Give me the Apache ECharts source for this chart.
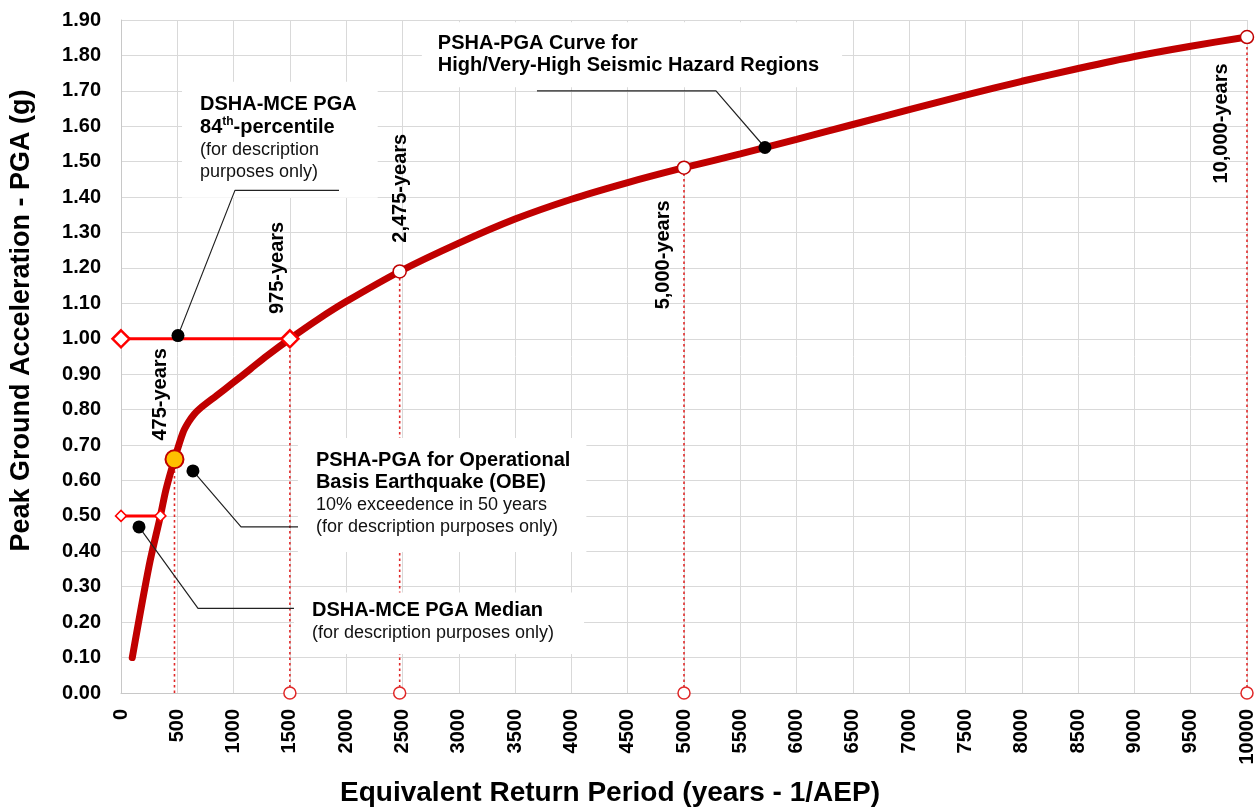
<!DOCTYPE html>
<html><head><meta charset="utf-8">
<script src="https://cdn.jsdelivr.net/npm/echarts@6/dist/echarts.min.js"></script>
<style>html,body{margin:0;padding:0;background:#fff}#c{width:1259px;height:812px}</style>
</head><body><div id="c"></div>
<script>
// PSHA-PGA hazard curve (return period in years, PGA in g)
const curveX = [100, 250, 350, 400, 475, 550, 600, 650, 700, 850, 1000, 1150, 1300, 1500, 1750, 2000, 2475, 3000, 3500, 4000, 4500, 5000, 5500, 6000, 6500, 7000, 7500, 8000, 8500, 9000, 9500, 10000];
const curveY = [0.10, 0.36, 0.50, 0.575, 0.66, 0.735, 0.765, 0.787, 0.803, 0.84, 0.877, 0.915, 0.953, 1.00, 1.055, 1.105, 1.19, 1.27, 1.338, 1.394, 1.441, 1.483, 1.522, 1.563, 1.605, 1.647, 1.688, 1.727, 1.763, 1.797, 1.826, 1.852];
// return-period markers
const rpX = [1500, 2475, 5000, 10000];
const rpY = [1.00, 1.19, 1.483, 1.852];
const obeX = [475];
const obeY = [0.66];
// rotated labels
const yearLabels = ['475-years', '975-years', '2,475-years', '5,000-years', '10,000-years'];
const yearLabelX = [355, 1394, 2486, 4821, 9775];
const yearLabelY = [0.843, 1.20, 1.425, 1.237, 1.608];
// DSHA horizontal lines
const hLine84X = [0, 1500];
const hLine84Y = 1.00;
const hLineMedX = [0, 350];
const hLineMedY = 0.50;
// callout dots and leader lines
const dotX = [506, 639, 160, 5719];
const dotY = [1.009, 0.627, 0.469, 1.54];
const leaderX = [[506, 1012, 1936], [639, 1066, 1572], [160, 684, 1536], [5719, 5284, 3694]];
const leaderY = [[1.009, 1.419, 1.419], [0.627, 0.469, 0.469], [0.469, 0.239, 0.239], [1.54, 1.70, 1.70]];
// callout notes (anchor = top-left of note box)
const noteX = [542, 1571, 1536, 2672];
const noteY = [1.726, 0.72, 0.284, 1.894];
const noteText = [
  '{b|DSHA-MCE PGA}\n{b|84}{sup|th}{b|-percentile}\n{n|(for description}\n{n|purposes only)}',
  '{b|PSHA-PGA for Operational}\n{b|Basis Earthquake (OBE)}\n{n|10% exceedence in 50 years}\n{n|(for description purposes only)}',
  '{b|DSHA-MCE PGA Median}\n{n|(for description purposes only)}',
  '{b|PSHA-PGA Curve for}\n{b|High/Very-High Seismic Hazard Regions}'
];
const notePadding = [[12, 21, 15, 18], [11, 16, 14, 18], [7, 30, 10, 18], [10, 23, 10, 16]];
// axis ticks
const xMin = 0, xMax = 10000, xStep = 500;
const yMin = 0, yMax = 1.9, yStep = 0.1;

const FONT = 'Liberation Sans, Arial, sans-serif';
const chart = echarts.init(document.getElementById('c'), null, {renderer: 'canvas'});

const series = [];
// dotted vertical drop lines
obeX.concat(rpX).forEach((x, i) => {
  const y = obeY.concat(rpY)[i];
  series.push({
    type: 'line', z: 1, silent: true, symbol: 'none', animation: false,
    data: [[x, 0], [x, y]],
    lineStyle: {color: '#e02828', width: 1.6, type: [2.5, 3]}
  });
});
// bottom open circles
series.push({
  type: 'scatter', z: 3, silent: true, animation: false, symbol: 'circle', symbolSize: 12,
  data: rpX.map(x => [x, 0]),
  itemStyle: {color: '#fff', borderColor: '#e02828', borderWidth: 1.5, opacity: 1}
});
// notes
series.push({
  type: 'scatter', z: 2, silent: true, animation: false, symbolSize: 0,
  itemStyle: {opacity: 1},
  data: noteX.map((x, i) => ({
    value: [x, noteY[i]],
    label: {padding: notePadding[i], formatter: noteText[i]}
  })),
  label: {
    show: true, position: [0, 0], align: 'left', verticalAlign: 'top', opacity: 1,
    backgroundColor: '#fff', color: '#000', fontFamily: FONT,
    rich: {
      b: {fontFamily: FONT, fontWeight: 'bold', fontSize: 20, lineHeight: 22.5, color: '#000'},
      n: {fontFamily: FONT, fontSize: 18, lineHeight: 22, color: '#111'},
      sup: {fontFamily: FONT, fontWeight: 'bold', fontSize: 12, lineHeight: 14, verticalAlign: 'top', color: '#000'}
    }
  }
});
// main curve
series.push({
  type: 'line', z: 4, silent: true, animation: false, smooth: 0.3, showSymbol: false, symbol: 'none',
  data: curveX.map((x, i) => [x, curveY[i]]),
  lineStyle: {color: '#c00000', width: 7, cap: 'round'}
});
// DSHA horizontal lines
series.push({
  type: 'line', z: 5, silent: true, animation: false, symbol: 'diamond', symbolSize: 17,
  data: hLine84X.map(x => [x, hLine84Y]),
  lineStyle: {color: '#ff0000', width: 3},
  itemStyle: {color: '#fff', borderColor: '#ff0000', borderWidth: 2.5}
});
series.push({
  type: 'line', z: 5, silent: true, animation: false, symbol: 'diamond', symbolSize: 11,
  data: hLineMedX.map(x => [x, hLineMedY]),
  lineStyle: {color: '#ff0000', width: 3},
  itemStyle: {color: '#fff', borderColor: '#ff0000', borderWidth: 1.5}
});
// open circles on curve
series.push({
  type: 'scatter', z: 6, silent: true, animation: false, symbol: 'circle', symbolSize: 13,
  data: rpX.slice(1).map((x, i) => [x, rpY[i + 1]]),
  itemStyle: {color: '#fff', borderColor: '#c00000', borderWidth: 1.5, opacity: 1}
});
// OBE marker
series.push({
  type: 'scatter', z: 6, silent: true, animation: false, symbol: 'circle', symbolSize: 18,
  data: obeX.map((x, i) => [x, obeY[i]]),
  itemStyle: {color: '#ffc000', borderColor: '#c00000', borderWidth: 2, opacity: 1}
});
// leader lines
leaderX.forEach((xs, k) => {
  series.push({
    type: 'line', z: 7, silent: true, animation: false, symbol: 'none',
    data: xs.map((x, i) => [x, leaderY[k][i]]),
    lineStyle: {color: '#222', width: 1.2}
  });
});
// black dots
series.push({
  type: 'scatter', z: 8, silent: true, animation: false, symbol: 'circle', symbolSize: 13,
  data: dotX.map((x, i) => [x, dotY[i]]),
  itemStyle: {color: '#000', opacity: 1}
});
// rotated year labels
series.push({
  type: 'scatter', z: 8, silent: true, animation: false, symbolSize: 0,
  itemStyle: {opacity: 1},
  data: yearLabelX.map((x, i) => ({value: [x, yearLabelY[i]], name: yearLabels[i]})),
  label: {
    show: true, position: 'inside', rotate: 90, align: 'center', verticalAlign: 'middle', opacity: 1,
    formatter: p => p.name, fontFamily: FONT, fontWeight: 'bold', fontSize: 20, color: '#000'
  }
});

chart.setOption({
  animation: false,
  backgroundColor: '#fff',
  grid: {left: 121, right: 12, top: 20, bottom: 116, containLabel: false},
  xAxis: {
    type: 'value', min: xMin, max: xMax, interval: xStep,
    name: 'Equivalent Return Period (years - 1/AEP)', nameLocation: 'middle', nameGap: 86,
    nameTextStyle: {fontFamily: FONT, fontWeight: 'bold', fontSize: 28, color: '#000', padding: [0, 148, 0, 0]},
    axisLine: {show: true, lineStyle: {color: '#c8c8c8', width: 1}},
    axisTick: {show: false},
    axisLabel: {rotate: 90, margin: 16, fontFamily: FONT, fontWeight: 'bold', fontSize: 20, color: '#000',
      formatter: v => String(v)},
    splitLine: {show: true, lineStyle: {color: '#d9d9d9', width: 1}}
  },
  yAxis: {
    type: 'value', min: yMin, max: yMax, interval: yStep,
    name: 'Peak Ground Acceleration - PGA (g)', nameLocation: 'middle', nameGap: 86, nameRotate: 90,
    nameTextStyle: {fontFamily: FONT, fontWeight: 'bold', fontSize: 27, color: '#000', padding: [0, 0, 0, 72]},
    axisLine: {show: true, lineStyle: {color: '#c8c8c8', width: 1}},
    axisTick: {show: false},
    axisLabel: {margin: 20, fontFamily: FONT, fontWeight: 'bold', fontSize: 20, color: '#000',
      formatter: v => v.toFixed(2)},
    splitLine: {show: true, lineStyle: {color: '#d9d9d9', width: 1}}
  },
  series: series
});
</script>
</body></html>
